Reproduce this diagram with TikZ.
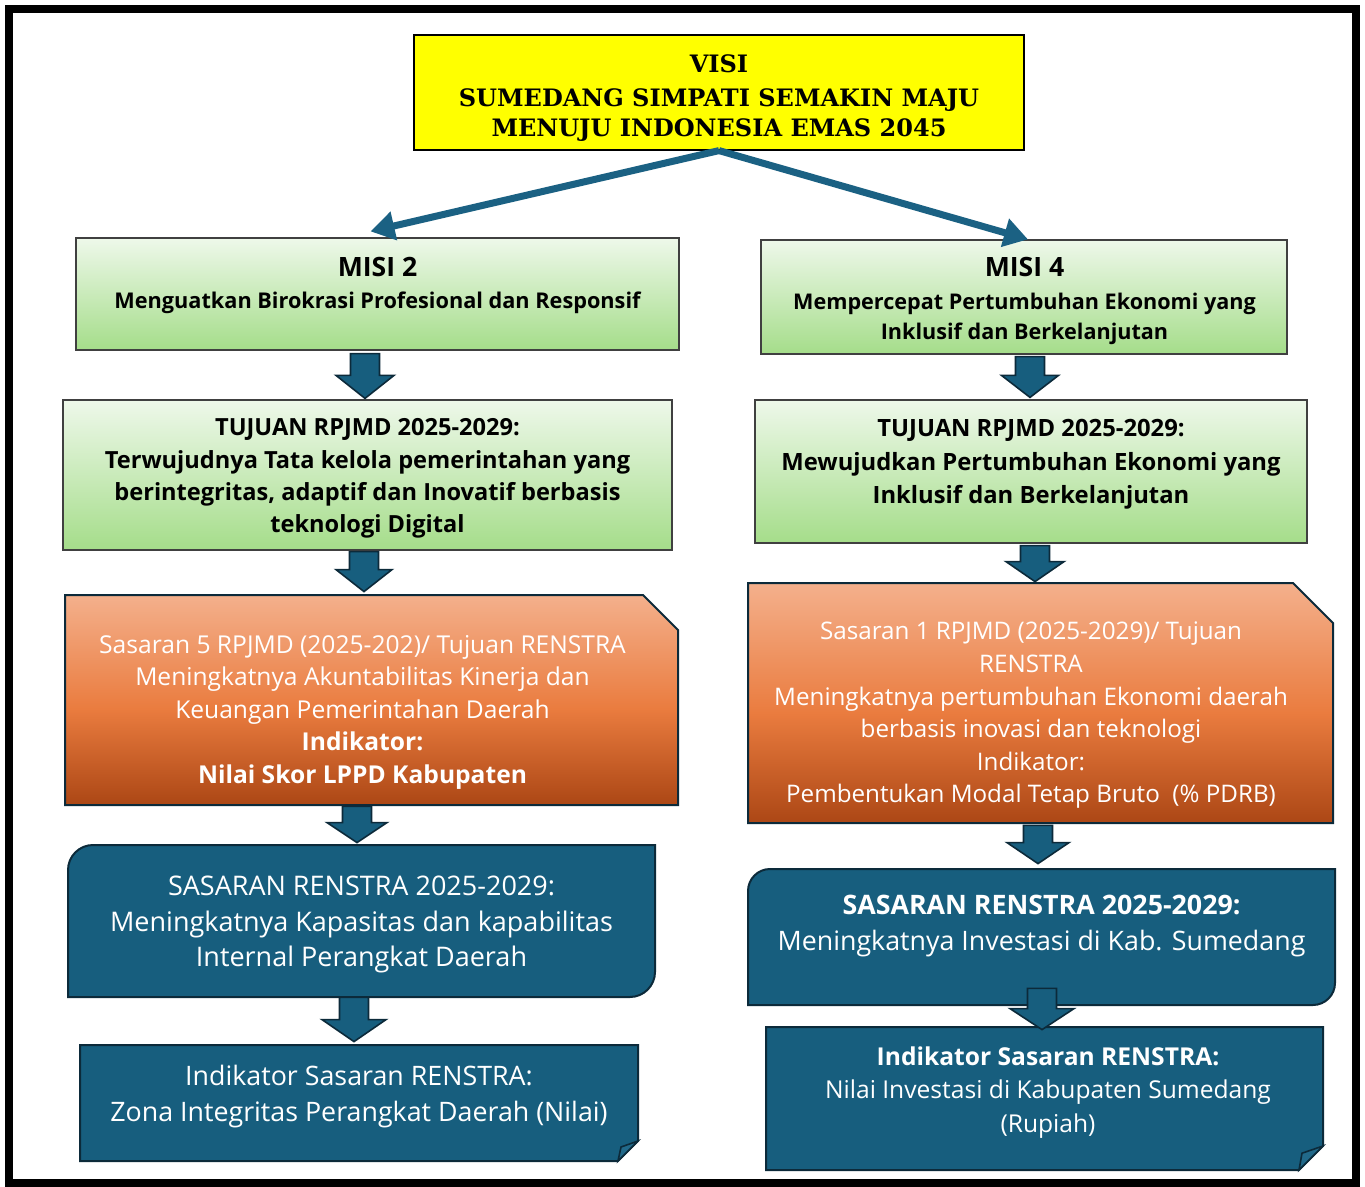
\documentclass[tikz,border=0pt]{standalone}
\usepackage{fontspec}
\setmainfont{Open Sans}
\newfontfamily\slabfont{DejaVu Serif}
\usetikzlibrary{arrows.meta,calc,fit}

\definecolor{visiyellow}{HTML}{FFFF00}
\definecolor{greentop}{HTML}{EEF8EA}
\definecolor{greenbot}{HTML}{A5DD8A}
\definecolor{orT}{HTML}{F4B08C}
\definecolor{orM}{HTML}{EA7C3F}
\definecolor{orB}{HTML}{AC4715}
\definecolor{teal}{HTML}{175E7E}
\definecolor{tealfold}{HTML}{21698A}
\definecolor{edge}{HTML}{0C2A3A}
\definecolor{linkblue}{HTML}{1B6183}

\pgfdeclareverticalshading{orangefill}{100bp}{color(0bp)=(orB); color(25bp)=(orB); color(48bp)=(orM); color(75bp)=(orT); color(100bp)=(orT)}

% orange box with the top right corner cut off
\newcommand\snipbox[6]{%
  \path[orangebox] (#2,#3) -- ({#4-#6},#3) -- (#4,{#3+#6}) -- (#4,#5) -- (#2,#5) -- cycle;
  \node[fit={(#2,#3) (#4,#5)}, inner sep=0pt] (#1) {};
}
% teal box, top left and bottom right corners rounded
\newcommand\rounddiagbox[6]{%
  \path[tealbox] (#2,#5) -- (#2,{#3+#6}) .. controls (#2,{#3+0.45*#6}) and ({#2+0.45*#6},#3) .. ({#2+#6},#3)
    -- (#4,#3) -- (#4,{#5-#6}) .. controls (#4,{#5-0.45*#6}) and ({#4-0.45*#6},#5) .. ({#4-#6},#5) -- cycle;
  \node[fit={(#2,#3) (#4,#5)}, inner sep=0pt] (#1) {};
}
% teal box with a folded bottom right corner
\newcommand\foldbox[6]{%
  \path[tealbox] (#2,#3) -- (#4,#3) -- (#4,{#5-#6}) -- ({#4-#6},#5) -- (#2,#5) -- cycle;
  \path[foldflap] ({#4-#6},#5) -- ({#4-#6+3},{#5-0.7*#6}) -- (#4,{#5-#6}) -- cycle;
  \node[fit={(#2,#3) (#4,#5)}, inner sep=0pt] (#1) {};
}
% thick downward block arrow between two boxes
\newcommand\blockarrow[7]{%
  \coordinate (ba-top) at (#1,0 |- #2.south);
  \coordinate (ba-tip) at (#1,0 |- #3.north);
  \draw[barrow] ($(ba-top)+(-14.5,#4)$) -- ($(ba-top)+(14.5,#4)$) -- ($(ba-tip)+(14.5,{#5-#6})$)
    -- ($(ba-tip)+(#7,{#5-#6})$) -- ($(ba-tip)+(0,#5)$) -- ($(ba-tip)+(-#7,{#5-#6})$)
    -- ($(ba-tip)+(-14.5,{#5-#6})$) -- cycle;
}

\begin{document}
\begin{tikzpicture}[x=0.5pt,y=-0.5pt,
  visibox/.style={draw=black, line width=0.6pt, fill=visiyellow, inner sep=0pt},
  greenbox/.style={draw=black!75, line width=0.6pt, top color=greentop, bottom color=greenbot, inner sep=0pt},
  orangebox/.style={draw=edge, line width=1pt, shade, shading=orangefill},
  tealbox/.style={draw=edge, line width=1pt, fill=teal},
  foldflap/.style={draw=edge, line width=0.8pt, fill=tealfold},
  barrow/.style={draw=edge, line width=0.8pt, fill=teal, line join=miter},
  link/.style={draw=linkblue, line width=3.5pt, -{Triangle[length=12pt,width=14pt]}},
  txt/.style={align=center, inner sep=0pt},
  wtxt/.style={txt, text=white}]

\useasboundingbox (0,0) rectangle (1365,1187);
\fill[white] (0,0) rectangle (1365,1187);
\draw[line width=4pt] (9,9) rectangle (1356,1183);

% vision
\node[visibox, minimum width=305pt, minimum height=57.5pt] (visi) at (719,92.5) {};
\node[txt, font=\slabfont\bfseries\fontsize{12}{15}\selectfont] (visit) at (719,98)
  {VISI\\[2pt]SUMEDANG SIMPATI SEMAKIN MAJU\\MENUJU INDONESIA EMAS 2045};

% missions
\node[greenbox, minimum width=301.5pt, minimum height=56pt] (m2) at (377.5,294) {};
\node[txt, font=\bfseries\fontsize{10.85}{16}\selectfont] (m2t) at (377.5,285)
  {{\fontsize{13.3}{16}\selectfont MISI 2}\\Menguatkan Birokrasi Profesional dan Responsif};
\node[greenbox, minimum width=263pt, minimum height=57pt] (m4) at (1024,297) {};
\node[txt, font=\bfseries\fontsize{10.8}{15}\selectfont] (m4t) at (1024.5,301)
  {{\fontsize{13.3}{16}\selectfont MISI 4}\\[1.5pt]Mempercepat Pertumbuhan Ekonomi yang\\Inklusif dan Berkelanjutan};

% goals
\node[greenbox, minimum width=304.5pt, minimum height=75pt] (t2) at (367.5,475) {};
\node[txt, font=\bfseries\fontsize{11.8}{16.2}\selectfont] (t2t) at (367.5,478.5)
  {TUJUAN RPJMD 2025-2029:\\Terwujudnya Tata kelola pemerintahan yang\\berintegritas, adaptif dan Inovatif berbasis\\teknologi Digital};
\node[greenbox, minimum width=276pt, minimum height=71.5pt] (t4) at (1031,471.5) {};
\node[txt, font=\bfseries\fontsize{11.9}{16.75}\selectfont] (t4t) at (1031,464.5)
  {TUJUAN RPJMD 2025-2029:\\Mewujudkan Pertumbuhan Ekonomi yang\\Inklusif dan Berkelanjutan};

% RPJMD targets
\snipbox{s5}{65}{595}{678}{805}{35}
\node[wtxt, font=\fontsize{12.3}{16.25}\selectfont] (s5t) at (362.5,712)
  {Sasaran 5 RPJMD (2025-202)/ Tujuan RENSTRA\\Meningkatnya Akuntabilitas Kinerja dan\\Keuangan Pemerintahan Daerah\\\textbf{Indikator:}\\\textbf{Nilai Skor LPPD Kabupaten}};
\snipbox{s1}{748}{583}{1333}{823}{40}
\node[wtxt, font=\fontsize{12.1}{16.3}\selectfont] (s1t) at (1031,715.5)
  {Sasaran 1 RPJMD (2025-2029)/ Tujuan\\RENSTRA\\Meningkatnya pertumbuhan Ekonomi daerah\\berbasis inovasi dan teknologi\\Indikator:\\Pembentukan Modal Tetap Bruto\ \ (\% PDRB)};

% strategic plan targets
\rounddiagbox{r2}{68}{845}{655}{997}{25}
\node[wtxt, font=\fontsize{13.5}{17.75}\selectfont] (r2t) at (361.5,924.5)
  {SASARAN RENSTRA 2025-2029:\\Meningkatnya Kapasitas dan kapabilitas\\Internal Perangkat Daerah};
\rounddiagbox{r4}{748}{869}{1335}{1005}{22}
\node[wtxt, font=\fontsize{13.4}{18}\selectfont] (r4t) at (1041.5,926)
  {\textbf{SASARAN RENSTRA 2025-2029:}\\Meningkatnya Investasi di Kab. Sumedang};

% indicators
\foldbox{i2}{80}{1045}{638}{1161}{20}
\node[wtxt, font=\fontsize{13.4}{18}\selectfont] (i2t) at (359,1097)
  {Indikator Sasaran RENSTRA:\\Zona Integritas Perangkat Daerah (Nilai)};
\foldbox{i4}{766}{1027}{1323}{1170}{24}
\node[wtxt, font=\fontsize{12.3}{16.75}\selectfont] (i4t) at (1048,1092.5)
  {\textbf{Indikator Sasaran RENSTRA:}\\Nilai Investasi di Kabupaten Sumedang\\(Rupiah)};

% links from the vision to the missions
\draw[link] (visi.south) -- ($(m2.north)+(-7,-6)$);
\draw[link] (visi.south) -- ($(m4.north)+(4,0)$);

% block arrows, left column
\blockarrow{365}{m2}{t2}{3}{-1}{23}{29}
\blockarrow{364}{t2}{s5}{1}{-3}{22}{28}
\blockarrow{357}{s5}{r2}{1}{-2}{20}{30}
\blockarrow{354}{r2}{i2}{0}{-3}{22}{32}
% block arrows, right column
\blockarrow{1030}{m4}{t4}{2}{-2}{22}{28.5}
\blockarrow{1035}{t4}{s1}{2}{-1}{20}{29}
\blockarrow{1038}{s1}{r4}{2}{-5}{21}{31}
\blockarrow{1042}{r4}{i4}{-17}{3}{21}{32}
\end{tikzpicture}
\end{document}
